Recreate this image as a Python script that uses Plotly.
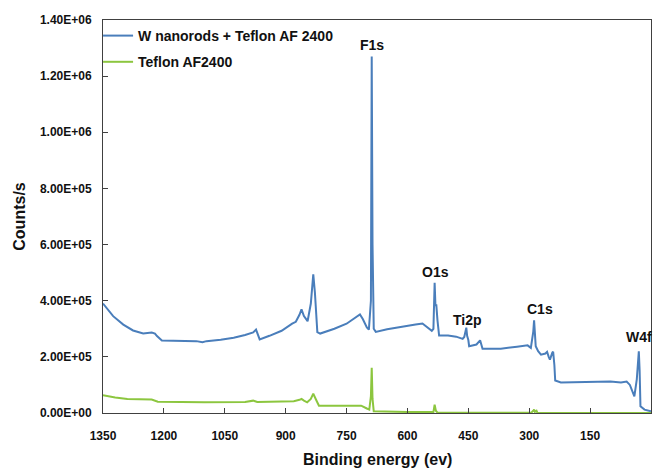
import plotly.graph_objects as go

# ---- data ----
w_energy = [1350, 1325, 1300, 1276, 1251, 1240, 1230, 1222, 1217, 1205, 1180, 1150, 1120, 1105, 1095,
            1060, 1028, 1000, 980, 973, 968, 964, 940, 910, 884, 875, 866, 861, 855, 846, 838, 832,
            828, 822, 815, 780, 750, 730, 717, 710, 700, 695, 690, 688, 686, 683, 678, 650, 617, 580,
            563, 555, 540, 536, 533, 531, 529, 526, 522, 500, 480, 464, 460, 455, 453, 450, 448, 430,
            423, 421, 415, 370, 330, 304, 296, 290, 288, 285, 284, 278, 271, 260, 256, 252, 249, 243,
            241, 238, 236, 222, 150, 100, 74, 60, 52, 44, 41, 35, 32, 30, 28, 26, 16, 5, 0]
w_counts = [390e3, 345e3, 315e3, 294e3, 283e3, 284e3, 287e3, 283e3, 274e3, 258e3, 257e3, 257e3, 256e3,
            252e3, 256e3, 261e3, 268e3, 278e3, 287e3, 297e3, 275e3, 262e3, 275e3, 293e3, 318e3, 325e3,
            350e3, 369e3, 345e3, 327e3, 390e3, 494e3, 430e3, 288e3, 283e3, 300e3, 318e3, 338e3, 351e3,
            335e3, 305e3, 297e3, 400e3, 1270e3, 600e3, 300e3, 289e3, 298e3, 307e3, 315e3, 319e3, 310e3,
            293e3, 300e3, 464e3, 380e3, 387e3, 330e3, 276e3, 276e3, 272e3, 264e3, 271e3, 304e3, 275e3,
            260e3, 238e3, 244e3, 257e3, 259e3, 229e3, 229e3, 236e3, 241e3, 232e3, 290e3, 330e3, 260e3,
            238e3, 220e3, 208e3, 212e3, 218e3, 200e3, 190e3, 215e3, 218e3, 170e3, 116e3, 109e3, 112e3,
            112e3, 109e3, 112e3, 100e3, 70e3, 59e3, 120e3, 200e3, 220e3, 150e3, 24e3, 12e3, 8e3, 6e3]

t_energy = [1350, 1320, 1290, 1250, 1230, 1215, 1100, 1000, 980, 970, 900, 880, 866, 861, 855, 847, 838,
            832, 826, 818, 780, 720, 714, 700, 694, 690, 688, 686, 683, 600, 543, 536, 533, 530, 526,
            400, 295, 290, 288, 286, 282, 280, 0]
t_counts = [63e3, 55e3, 50e3, 48e3, 48e3, 40e3, 38e3, 39e3, 44e3, 39e3, 40e3, 42e3, 47e3, 50e3, 44e3,
            38e3, 50e3, 69e3, 50e3, 26e3, 26e3, 27e3, 26e3, 16e3, 12e3, 60e3, 161e3, 50e3, 6e3, 4e3, 2e3,
            4e3, 30e3, 8e3, 1e3, 1e3, 1e3, 8e3, 12e3, 4e3, 8e3, 1e3, 0]

y_ticks = [0, 2e5, 4e5, 6e5, 8e5, 1e6, 1.2e6, 1.4e6]
y_ticktext = ["0.00E+00", "2.00E+05", "4.00E+05", "6.00E+05", "8.00E+05", "1.00E+06", "1.20E+06", "1.40E+06"]
x_ticks = [1350, 1200, 1050, 900, 750, 600, 450, 300, 150, 0]

peak_labels = ["F1s", "O1s", "Ti2p", "C1s", "W4f"]
peak_x = [687, 531, 452, 273, 29]
peak_y = [1.312e6, 5.01e5, 3.31e5, 3.71e5, 2.71e5]

x_title = "Binding energy (ev)"
y_title = "Counts/s"

FONT = "Liberation Sans, Arial, sans-serif"
AXIS_COLOR = "#404040"

fig = go.Figure()
fig.add_trace(go.Scatter(x=w_energy, y=w_counts, mode="lines", name="W nanorods + Teflon AF 2400",
                         line=dict(color="#4a7ebb", width=2), legendgroup="a"))
fig.add_trace(go.Scatter(x=t_energy, y=t_counts, mode="lines", name="Teflon AF2400",
                         line=dict(color="#8cc63f", width=2), legendgroup="b"))

for lab, px, py in zip(peak_labels, peak_x, peak_y):
    fig.add_annotation(x=px, y=py, text=lab, showarrow=False, xanchor="center", yanchor="middle",
                       font=dict(family=FONT, size=14, color="#111111", weight="bold"))

# x-axis title, placed slightly lower than Plotly's own title slot allows
fig.add_annotation(x=0.5, y=-0.118, xref="paper", yref="paper", text=x_title, showarrow=False,
                   xanchor="center", yanchor="middle",
                   font=dict(family=FONT, size=16, color="#111111", weight="bold"))

fig.update_layout(
    width=654, height=470,
    margin=dict(l=103, r=3, t=20, b=57),
    paper_bgcolor="white", plot_bgcolor="white",
    showlegend=True,
    legend=dict(x=-0.009, y=1.0, xanchor="left", yanchor="top", bgcolor="rgba(0,0,0,0)",
                font=dict(family=FONT, size=14, color="#111111", weight="bold"),
                tracegroupgap=5, itemwidth=30),
    xaxis=dict(range=[1350, 0], tickvals=x_ticks, ticks="inside", ticklen=5, tickcolor=AXIS_COLOR,
               showline=True, linecolor=AXIS_COLOR, linewidth=1, mirror=True, showgrid=False,
               zeroline=False, ticklabelstandoff=12,
               tickfont=dict(family=FONT, size=12, color="#111111", weight="bold")),
    yaxis=dict(range=[0, 1.4e6], tickvals=y_ticks, ticktext=y_ticktext, ticks="inside", ticklen=5,
               tickcolor=AXIS_COLOR, showline=True, linecolor=AXIS_COLOR, linewidth=1, mirror=True,
               showgrid=False, zeroline=False, ticklabelstandoff=8,
               tickfont=dict(family=FONT, size=12, color="#111111", weight="bold"),
               title=dict(text=y_title, standoff=10,
                          font=dict(family=FONT, size=16, color="#111111", weight="bold"))),
)

fig.write_html("out.html")
